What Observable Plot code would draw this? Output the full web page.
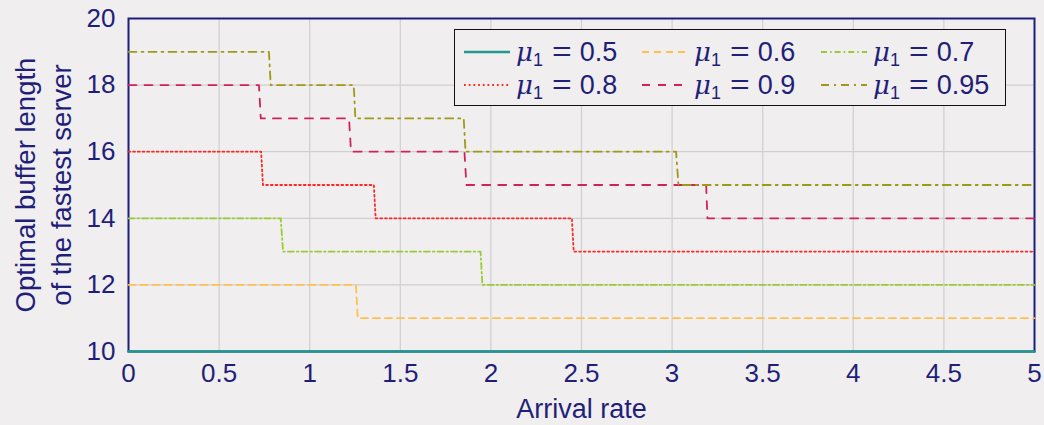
<!DOCTYPE html>
<html>
<head>
<meta charset="utf-8">
<script src="https://cdn.jsdelivr.net/npm/d3@7"></script>
<script src="https://cdn.jsdelivr.net/npm/@observablehq/plot@0.6"></script>
<style>
  html, body { margin: 0; padding: 0; background: #f0eeef; }
  #wrap { position: relative; width: 1044px; height: 425px; overflow: hidden; font-family: "Liberation Sans", Arial, sans-serif; }
  #legend { position: absolute; left: 454px; top: 29px; width: 550px; height: 75px; border: 1.6px solid #111; background: #f0eeef; box-sizing: content-box; }
  .item { position: absolute; height: 30px; display: flex; align-items: center; }
  .item svg { display: block; }
  .lab { margin-left: 6px; font-size: 27px; color: #1f1f7a; white-space: nowrap; line-height: 30px; }
  .lab i { font-family: "DejaVu Serif", "Liberation Serif", serif; font-style: italic; font-size: 26px; }
  .lab sub { font-size: 18px; vertical-align: -5px; line-height: 0; }
  .lab .eq { display: inline-block; margin: 0 10px 0 11px; transform: scaleX(1.25); }
</style>
</head>
<body>
<div id="wrap"><div id="chart"></div><div id="legend"></div></div>
<script>
// ---- data ----
const xTicks = [0, 0.5, 1, 1.5, 2, 2.5, 3, 3.5, 4, 4.5, 5];
const yTicks = [10, 12, 14, 16, 18, 20];
const xTitle = "Arrival rate";
const yTitle = "Optimal buffer length\nof the fastest server";

const muLabels = ["0.5", "0.6", "0.7", "0.8", "0.9", "0.95"];

const rate05 = [0, 5];
const buf05  = [10, 10];
const rate06 = [0, 1.255, 1.265, 5];
const buf06  = [12, 12, 11, 11];
const rate07 = [0, 0.84, 0.853, 1.943, 1.953, 5];
const buf07  = [14, 14, 13, 13, 12, 12];
const rate08 = [0, 0.732, 0.742, 1.354, 1.364, 2.447, 2.457, 5];
const buf08  = [16, 16, 15, 15, 14, 14, 13, 13];
const rate09 = [0, 0.72, 0.73, 1.217, 1.228, 1.854, 1.865, 3.188, 3.195, 5];
const buf09  = [18, 18, 17, 17, 16, 16, 15, 15, 14, 14];
const rate095 = [0, 0.775, 0.785, 1.243, 1.252, 1.85, 1.86, 3.022, 3.035, 5];
const buf095  = [19, 19, 18, 18, 17, 17, 16, 16, 15, 15];

// ---- styling ----
const navy = "#1f1f7a";
const styles = [
  {rate: rate05,  buf: buf05,  stroke: "#21998e", dash: null,          width: 2.6},
  {rate: rate06,  buf: buf06,  stroke: "#ffc04c", dash: "7,5",         width: 1.8},
  {rate: rate07,  buf: buf07,  stroke: "#99cc33", dash: "6,3,1.6,3",   width: 1.8},
  {rate: rate08,  buf: buf08,  stroke: "#ff2626", dash: "1.8,2.9",     width: 1.8},
  {rate: rate09,  buf: buf09,  stroke: "#d0235a", dash: "8,8",         width: 1.8},
  {rate: rate095, buf: buf095, stroke: "#9e9a17", dash: "8,5,2,5",     width: 1.8}
];

const lineMarks = styles.map(s => {
  const pts = s.rate.map((r, i) => ({x: r, y: s.buf[i]}));
  return Plot.line(pts, {x: "x", y: "y", stroke: s.stroke, strokeWidth: s.width,
    strokeDasharray: s.dash || undefined, curve: "linear"});
});

const chart = Plot.plot({
  width: 1044,
  height: 425,
  marginLeft: 128,
  marginRight: 10,
  marginTop: 18,
  marginBottom: 74,
  style: {background: "transparent", color: navy, fontFamily: "'Liberation Sans', Arial, sans-serif", fontSize: "26px", overflow: "visible"},
  x: {domain: [0, 5]},
  y: {domain: [10, 20]},
  marks: [
    Plot.gridX(xTicks, {stroke: "#cfcfcf", strokeOpacity: 1, strokeWidth: 1.2}),
    Plot.gridY(yTicks, {stroke: "#cfcfcf", strokeOpacity: 1, strokeWidth: 1.2}),
    Plot.frame({stroke: navy, strokeWidth: 2}),
    ...lineMarks,
    Plot.axisX(xTicks, {tickSize: 0, tickPadding: 12, tickFormat: d => String(d), label: null, fontSize: 26, fill: navy}),
    Plot.axisY(yTicks, {tickSize: 0, tickPadding: 13, tickFormat: d => String(d), label: null, fontSize: 26, fill: navy}),
    Plot.text([xTitle], {text: d => d, frameAnchor: "bottom", dy: 58, lineAnchor: "middle", textAnchor: "middle", fontSize: 27, fill: navy}),
    Plot.text([yTitle], {text: d => d, frameAnchor: "left", dx: -87, rotate: -90, textAnchor: "middle", lineAnchor: "middle", lineHeight: 1.3, fontSize: 27.5, fill: navy})
  ]
});
document.getElementById("chart").appendChild(chart);

// ---- legend ----
const legend = document.getElementById("legend");
const colX = [9, 187, 366];
const rowY = [7, 40];
styles.forEach((s, idx) => {
  const c = idx % 3, r = Math.floor(idx / 3);
  const div = document.createElement("div");
  div.className = "item";
  div.style.left = colX[c] + "px";
  div.style.top = rowY[r] + "px";
  div.innerHTML = `<svg width="46" height="30"><line x1="0" y1="15" x2="46" y2="15" stroke="${s.stroke}" stroke-width="${idx === 0 ? 2.6 : 1.8}" ${s.dash ? `stroke-dasharray="${s.dash}"` : ""}/></svg>` +
    `<span class="lab"><i>μ</i><sub>1</sub><span class="eq">=</span>${muLabels[idx]}</span>`;
  legend.appendChild(div);
});
</script>
</body>
</html>
